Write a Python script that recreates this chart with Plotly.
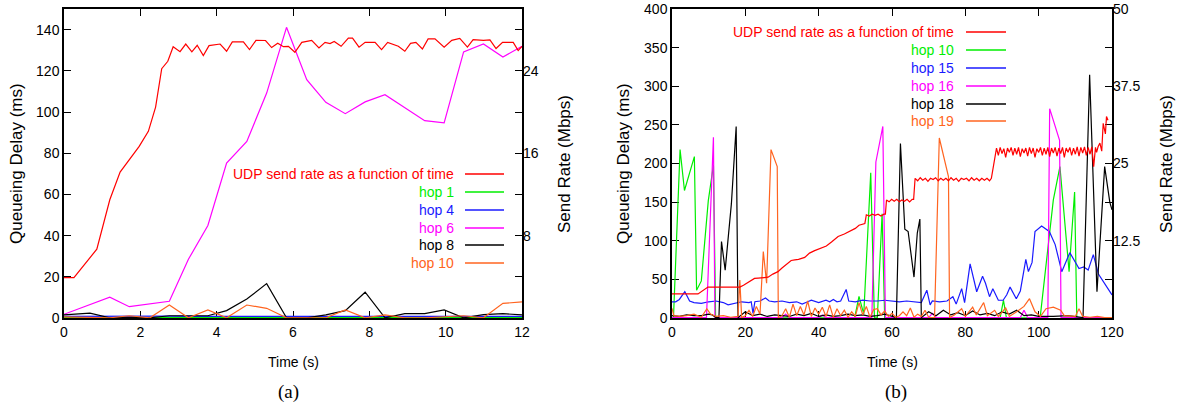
import plotly.graph_objects as go

# ---------------- data: panel (a) ----------------
udp_a_t = [0, 0.26, 0.86, 1.2, 1.47, 1.97, 2.21, 2.40, 2.56, 2.72, 2.86, 3.04, 3.19, 3.35, 3.49, 3.65,
           3.80, 4.09, 4.26, 4.41, 4.70, 4.86, 5.03, 5.28, 5.44, 5.60, 5.75, 5.88, 6.05, 6.23, 6.49,
           6.68, 6.84, 6.97, 7.08, 7.26, 7.45, 7.56, 7.73, 7.89, 8.15, 8.32, 8.48, 8.76, 8.93, 9.08,
           9.22, 9.39, 9.54, 9.72, 9.96, 10.16, 10.37, 10.57, 10.72, 10.99, 11.16, 11.32, 11.49,
           11.77, 11.90, 12.0]
udp_a_mbps = [3.92, 3.92, 6.68, 11.48, 14.16, 16.66, 18.12, 20.48, 24.2, 24.92, 26.34, 25.86, 26.6,
              25.84, 26.48, 25.48, 26.44, 26.6, 25.9, 26.8, 26.8, 26.06, 26.96, 26.94, 26.26, 26.68,
              26.34, 26.38, 25.8, 26.76, 26.96, 26.22, 26.76, 26.64, 26.84, 26.38, 27.18, 27.18, 26.3,
              26.76, 26.76, 26.06, 26.76, 26.38, 25.9, 26.66, 26.76, 26.12, 27.1, 27.1, 26.3, 26.96,
              27.14, 26.3, 27.02, 26.96, 27.0, 26.16, 26.76, 26.76, 25.96, 26.38]

hop_a_t = [0, 0.68, 1.2, 1.71, 2.25, 2.76, 3.26, 3.77, 4.26, 4.79, 5.31, 5.83, 6.36, 6.86, 7.37,
           7.89, 8.41, 8.93, 9.45, 9.96, 10.47, 10.99, 11.5, 12.0]
hop1_a = [0.3, 0.3, 0.2, 0.3, 0.2, 0.4, 0.4, 0.3, 0.3, 0.2, 0.3, 0.3, 0.2, 0.3, 0.3, 0.2, 0.3, 0.4,
          0.3, 0.3, 0.2, 0.3, 0.3, 0.3]
hop4_a = [0.8, 0.9, 0.8, 0.7, 0.8, 0.9, 0.8, 0.8, 0.9, 0.8, 0.8, 0.7, 0.8, 0.8, 0.9, 0.8, 0.8, 0.8,
          0.9, 0.8, 0.7, 0.8, 0.8, 0.8]
hop6_a = [1.8, 6.4, 10.1, 5.5, 6.8, 8.1, 28.5, 44.9, 75.2, 85.7, 109.2, 141.1, 115.7, 104.7, 99.2,
          104.9, 108.4, 102.0, 95.8, 94.7, 129.2, 133.0, 126.7, 131.9]
hop8_a = [1.5, 2.4, 0.1, 0.3, 0.1, 1.1, 1.1, 1.1, 3.6, 9.2, 16.7, 0.1, 0.1, 1.5, 3.6, 12.5, 0.1, 2.1,
          2.1, 3.9, 0.1, 1.6, 2.1, 1.5]
hop10_a = [0.5, 0.3, 0.1, 1.1, 0.1, 6.3, 0.1, 3.9, 0.1, 6.3, 4.7, 0.1, 0.1, 0.1, 3.9, 0.1, 1.5, 0.1,
           0.1, 0.5, 1.1, 0.1, 7.1, 7.8]

# ---------------- data: panel (b) ----------------
udp_b_t = [0, 7.1, 9.8, 18.5, 19.5, 20.3, 21.5, 22.5, 23.5, 24.5, 26.2, 27.5, 28.9, 30.0, 31.0, 32.5,
           33.5, 34.5, 36.2, 37.5, 38.9, 40.5, 42.1, 43.5, 45.3, 47.0, 48.5, 50.0, 51.0, 52.1, 52.6,
           53.0, 53.8, 54.6, 55.4, 56.2, 57.0, 57.8, 58.2, 58.5, 59.2, 59.9, 60.6, 61.3, 62.0, 62.7,
           63.4, 64.1, 64.8, 65.5, 65.9,
           66.3, 67.0, 67.7, 68.4, 69.1, 69.8, 70.5, 71.2, 71.9, 72.6, 73.3, 74.0, 74.7, 75.4, 76.1,
           76.8, 77.5, 78.2, 78.9, 79.6, 80.3, 81.0, 81.7, 82.4, 83.1, 83.8, 84.5, 85.2, 85.9, 86.6,
           87.1,
           88.5, 89.0, 89.5, 90.0, 90.5, 91.0, 91.5, 92.0, 92.5, 93.0, 93.5, 94.0, 94.5, 95.0, 95.5,
           96.0, 96.5, 97.0, 97.5, 98.0, 98.5, 99.0, 99.5, 100.0, 100.5, 101.0, 101.5, 102.0, 102.5,
           103.0, 103.5, 104.0, 104.5, 105.0, 105.5, 106.0, 106.5, 107.0, 107.5, 108.0, 108.5, 109.0,
           109.5, 110.0, 110.5, 111.0, 111.5, 112.0, 112.5, 113.0, 113.5, 114.0, 114.5, 115.0, 115.5,
           115.8, 116.2, 116.7, 117.2, 117.6, 118.2, 118.5, 118.9, 119.2, 119.5, 120.0]
udp_b_mbps = [3.9, 3.9, 5.0, 5.0, 5.3, 5.6, 6.1, 6.4, 6.45, 6.5, 6.6, 7.1, 7.5, 8.1, 8.6, 9.3,
              9.4, 9.5, 9.8, 10.5, 10.9, 11.3, 11.65, 12.3, 13.2, 13.6, 14.0, 14.5, 15.0, 15.2, 15.3,
              16.7, 16.5, 16.8, 16.6, 16.8, 16.5, 16.8, 16.8, 19.1, 18.8, 19.2, 18.9, 19.2, 18.8, 19.1,
              18.9, 19.2, 18.8, 19.2, 19.2,
              22.6, 22.2, 22.7, 22.3, 22.6, 22.1, 22.6, 22.4, 22.7, 22.2, 22.6, 22.3, 22.6, 22.2, 22.7,
              22.3, 22.6, 22.1, 22.6, 22.4, 22.6, 22.2, 22.7, 22.3, 22.6, 22.2, 22.6, 22.3, 22.6, 22.2,
              22.6,
              27.5, 26.3, 27.6, 26.6, 27.4, 26.0, 27.5, 26.8, 27.6, 26.3, 27.5, 26.5, 27.6, 26.1, 27.4,
              26.7, 27.5, 26.2, 27.6, 26.6, 27.5, 26.0, 27.4, 26.8, 27.6, 26.3, 27.5, 26.5, 27.6, 26.1,
              27.5, 26.7, 27.6, 26.2, 27.5, 26.6, 27.6, 26.0, 27.5, 26.8, 27.6, 26.3, 27.5, 26.5, 27.7,
              26.2, 27.6, 26.7, 27.7, 26.3, 27.6, 26.5, 27.7, 24.5, 27.6, 26.8, 27.7, 28.3, 27.0,
              31.5, 29.8, 32.6, 32.0]

hop10_b_t = [0, 0.4, 2.2, 3.4, 6.1, 6.7, 8.0, 9.9, 11.3, 11.9, 49.8, 51.0, 52.3, 54.2, 55.2, 56.0,
             57.3, 58.0, 89.5, 90.4, 91.2, 100.4, 104.0, 105.8, 108.3, 109.8, 110.4, 120.0]
hop10_b = [0.3, 0.3, 218, 165, 209, 36, 48, 152, 198, 0.3, 0.3, 28, 5, 188, 0.3, 0.3,
           135, 0.3, 0.3, 23, 0.3, 0.3, 153, 196, 60, 163, 0.3, 0.3]

hop15_b_t = [0, 1, 2, 3.5, 4.8, 6, 8, 10, 12, 14, 15.3, 17, 19, 21, 21.6, 22.1, 22.6, 24, 25.5, 26.5,
             28, 30, 32, 34, 35.5, 37, 38, 40, 42, 43, 44, 45, 46, 47.5, 48.2, 50, 52, 54, 56, 58, 60,
             62, 64, 66, 68, 69.5, 70.4, 71, 73, 75, 76.6, 77.5, 79, 79.8, 81.3, 83.1, 84.7, 85.5,
             86.6, 87.5, 89, 90.3, 91.3, 92.2, 93.9, 95, 96.5, 97.2, 98.2, 99, 100.8, 102.9, 104.5,
             106.3, 108.5, 111, 112.3, 113.5, 114.9, 116.3, 117.8, 120]
hop15_b = [21, 21, 24, 34, 22, 20, 19, 21, 22, 20, 17, 19, 21, 20, 21, 6, 21, 22, 26, 22,
           21, 22, 20, 21, 18, 21, 23, 20, 23, 21, 24, 21, 22, 37, 22, 21, 23, 22, 22, 23, 22,
           21, 22, 21, 20, 36, 17, 22, 21, 22, 27.6, 18, 38, 20, 70, 34, 54, 45,
           27.6, 38, 23, 23, 30, 40, 25, 35, 76, 60, 72, 112, 119, 112, 95,
           60, 84.6, 64, 66, 62, 82, 57, 46, 29.8]

hop16_b_t = [0, 9.4, 11.3, 11.7, 30, 31, 32, 40, 41, 42, 54.5, 55.6, 57.5, 58.2, 70, 71, 72, 95, 96,
             97, 102.5, 103.0, 105.7, 106.1, 120]
hop16_b = [0.5, 0.5, 234, 0.5, 0.5, 5, 0.5, 0.5, 4, 0.5, 0.5, 202, 248, 0.5, 0.5, 6, 0.5, 0.5,
           10, 0.5, 0.5, 271, 230, 0.5, 0.5]

hop18_b_t = [0, 2, 4, 6, 8, 10, 11, 12, 12.8, 13.5, 14.5, 16.2, 17.5, 18.0, 20, 22, 24, 26, 28, 30,
             32, 34, 36, 38, 40, 42, 44, 46, 48, 50, 52, 54, 56, 58, 60, 61.2, 62.3, 63.5, 64.4, 66,
             66.9, 67.6, 68, 70, 72, 74, 76, 78, 80, 82, 84, 86, 88, 90, 92, 94, 96, 98, 100, 104,
             108, 110, 112.1, 113.9, 115.9, 118, 119.4, 120]
hop18_b = [3, 2, 4, 3, 3, 5, 4, 0.5, 0.5, 99, 62, 148, 248, 0.5, 8, 3, 5, 2, 4, 3,
           2, 5, 3, 6, 2, 4, 2, 3, 5, 3, 4, 2, 3, 5, 2, 0.5, 226, 115, 112, 53,
           110, 128, 0.5, 8, 3, 10, 4, 7, 3, 9, 4, 6, 3, 8, 5, 10, 3, 4, 2, 2,
           3, 2, 0.5, 315, 34, 196, 150, 140]

hop19_b_t = [0, 0.5, 2, 4, 6, 8, 9.5, 10.5, 12, 14, 16, 18, 18.5, 19, 20, 21, 22, 23, 24, 24.9, 25.8,
             27, 28.7, 29, 30, 31, 32, 33, 34, 35, 36, 37, 38, 39, 40, 41, 42, 43, 44, 45, 46, 47,
             48, 49, 50, 51, 52, 53, 54, 55, 56, 57, 58, 59, 60, 61, 62, 63, 64, 65, 66, 67, 68, 69,
             70, 71.6, 72.9, 75.4, 75.7, 77, 79, 80, 82, 83, 85, 86, 88, 89, 91, 92, 94, 96, 97.5,
             99, 100.5, 102, 104, 106, 107, 110, 111, 112, 114, 116, 118, 120]
hop19_b = [12.5, 3, 2, 3, 5, 1, 12, 5, 2, 3, 1, 2, 49, 0.5, 3, 10, 2, 15, 5, 86, 45,
           218, 196, 0.5, 3, 12, 1, 18, 3, 15, 4, 22, 2, 13, 5, 14, 2, 17, 0.5, 12, 3, 10,
           1, 8, 2, 20, 4, 15, 1, 11, 12, 4, 9, 2, 6, 1, 3, 8, 3, 13, 1, 5, 2, 10,
           1, 0.5, 233, 183, 0.5, 4, 12, 2, 14, 4, 20, 3, 10, 2, 13, 2, 8, 15, 25,
           8, 2, 12, 14, 10, 3, 2, 12, 2, 1, 2, 0.5, 0.5]

# ---------------- styling ----------------
W, H = 1179, 407
SANS = "Liberation Sans, Arial, Helvetica, sans-serif"
SERIF = "Liberation Serif, Times New Roman, serif"
RED, GREEN, BLUE, MAG, BLK, ORG = "#ff0000", "#00ee00", "#1a1aff", "#ff00ff", "#000000", "#ff6420"
LW = 1.2


def fx(p):
    return p / W


def fy(p):
    return 1 - p / H


fig = go.Figure()

# panel (a)
fig.add_trace(go.Scatter(x=udp_a_t, y=udp_a_mbps, xaxis="x", yaxis="y2", mode="lines",
                         line=dict(color=RED, width=LW)))
for vals, col in [(hop1_a, GREEN), (hop4_a, BLUE), (hop6_a, MAG), (hop8_a, BLK), (hop10_a, ORG)]:
    fig.add_trace(go.Scatter(x=hop_a_t, y=vals, xaxis="x", yaxis="y", mode="lines",
                             line=dict(color=col, width=LW)))

# panel (b)
fig.add_trace(go.Scatter(x=udp_b_t, y=udp_b_mbps, xaxis="x2", yaxis="y4", mode="lines",
                         line=dict(color=RED, width=LW)))
for tt, vals, col in [(hop10_b_t, hop10_b, GREEN), (hop15_b_t, hop15_b, BLUE),
                      (hop16_b_t, hop16_b, MAG), (hop18_b_t, hop18_b, BLK),
                      (hop19_b_t, hop19_b, ORG)]:
    fig.add_trace(go.Scatter(x=tt, y=vals, xaxis="x2", yaxis="y3", mode="lines",
                             line=dict(color=col, width=LW)))

tickfont = dict(family=SANS, size=14, color="black")
common = dict(ticks="inside", ticklen=7, tickwidth=1, tickcolor="black", showgrid=False,
              zeroline=False, tickfont=tickfont, layer="below traces", automargin=False)
ydom = [fy(318), fy(9)]

fig.update_layout(
    template="none",
    width=W, height=H, margin=dict(l=0, r=0, t=0, b=0, autoexpand=False),
    paper_bgcolor="white", plot_bgcolor="white", showlegend=False,
    xaxis=dict(domain=[fx(64), fx(522)], range=[0, 12], tickvals=[0, 2, 4, 6, 8, 10, 12],
               showline=True, linecolor="black", linewidth=1.5, mirror="ticks", anchor="y",
               **common),
    yaxis=dict(domain=ydom, range=[0, 150], tickvals=[0, 20, 40, 60, 80, 100, 120, 140],
               showline=True, linecolor="black", linewidth=1.5, mirror=True, anchor="x",
               **common),
    yaxis2=dict(overlaying="y", side="right", anchor="x", range=[0, 30],
                tickvals=[4, 8, 12, 16, 20, 24, 28], ticktext=["", "8", "", "16", "", "24", ""],
                showline=False, **common),
    xaxis2=dict(domain=[fx(672), fx(1112)], range=[0, 120],
                tickvals=[0, 20, 40, 60, 80, 100, 120],
                showline=True, linecolor="black", linewidth=1.5, mirror="ticks", anchor="y3",
                **common),
    yaxis3=dict(domain=ydom, range=[0, 400], tickvals=[0, 50, 100, 150, 200, 250, 300, 350, 400],
                showline=True, linecolor="black", linewidth=1.5, mirror=True, anchor="x2",
                **common),
    yaxis4=dict(overlaying="y3", side="right", anchor="x2", range=[0, 50],
                tickvals=[6.25, 12.5, 18.75, 25, 31.25, 37.5, 43.75, 50],
                ticktext=["", "12.5", "", "25", "", "37.5", "", "50"],
                showline=False, **common),
)

ann = []
shapes = []


def text(x, y, s, size=14, angle=0, family=SANS, color="black", xanchor="center"):
    ann.append(dict(x=fx(x), y=fy(y), xref="paper", yref="paper", text=s, showarrow=False,
                    textangle=angle, xanchor=xanchor, yanchor="middle",
                    font=dict(family=family, size=size, color=color)))


# axis titles
text(16, 164, "Queueing Delay (ms)", size=17, angle=-90)
text(564, 164, "Send Rate (Mbps)", size=17, angle=-90)
text(293, 362, "Time (s)")
text(288, 392, "(a)", size=19, family=SERIF)
text(623, 164, "Queueing Delay (ms)", size=17, angle=-90)
text(1166, 164, "Send Rate (Mbps)", size=17, angle=-90)
text(892, 362, "Time (s)")
text(896, 392, "(b)", size=19, family=SERIF)

# legends
leg_a = [("UDP send rate as a function of time", RED), ("hop 1", GREEN), ("hop 4", BLUE),
         ("hop 6", MAG), ("hop 8", BLK), ("hop 10", ORG)]
leg_a_y = [174, 192, 210, 228, 245, 263]
for (s, c), yy in zip(leg_a, leg_a_y):
    text(456, yy, s, color=c, xanchor="right")
    shapes.append(dict(type="line", xref="paper", yref="paper", x0=fx(465), x1=fx(504),
                       y0=fy(yy), y1=fy(yy), line=dict(color=c, width=1.5)))

leg_b = [("UDP send rate as a function of time", RED), ("hop 10", GREEN), ("hop 15", BLUE),
         ("hop 16", MAG), ("hop 18", BLK), ("hop 19", ORG)]
leg_b_y = [32, 50, 68, 86, 104, 121]
for (s, c), yy in zip(leg_b, leg_b_y):
    text(956, yy, s, color=c, xanchor="right")
    shapes.append(dict(type="line", xref="paper", yref="paper", x0=fx(966), x1=fx(1006),
                       y0=fy(yy), y1=fy(yy), line=dict(color=c, width=1.5)))

fig.update_layout(annotations=ann, shapes=shapes)
fig.write_html("out.html", config={"displayModeBar": False},
               post_script="document.body.style.margin='0';document.body.style.overflow='hidden';")
